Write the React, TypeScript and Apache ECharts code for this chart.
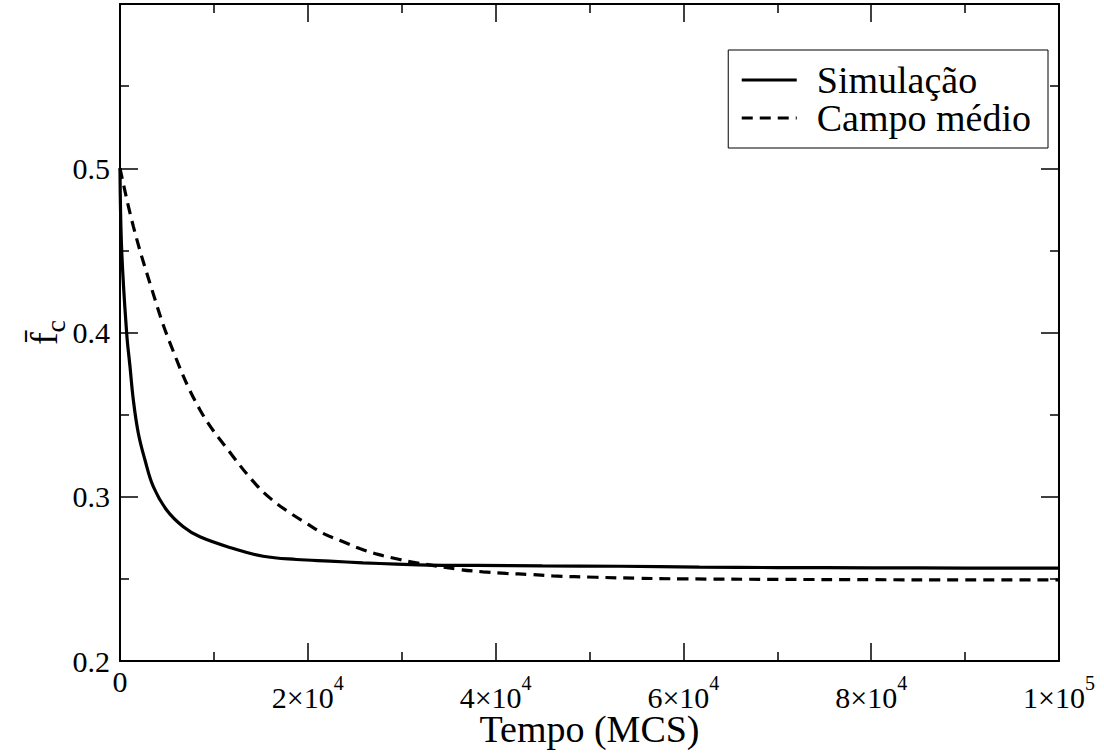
import React, { useEffect, useRef } from "react";
import * as echarts from "echarts";

const simTime = [0, 177, 709, 1064, 1418, 1950, 2660, 3550, 4965, 6740, 8510, 12050, 15250, 18800, 22340, 25880, 29430, 32980, 38000, 45000, 53200, 61700, 70000, 80000, 90000, 100000];
const simValue = [0.5, 0.4505, 0.3997, 0.3793, 0.359, 0.3387, 0.3224, 0.3061, 0.2919, 0.2817, 0.2756, 0.2685, 0.2638, 0.2618, 0.2608, 0.2598, 0.259, 0.2584, 0.2582, 0.2579, 0.2577, 0.2571, 0.2569, 0.2567, 0.2566, 0.2565];

const mfTime = [0, 1420, 3190, 5320, 8510, 12060, 14540, 16140, 17910, 19860, 21630, 23580, 25530, 27480, 29790, 31560, 36170, 38650, 41130, 43600, 46060, 50710, 55000, 60000, 70000, 80000, 90000, 100000];
const mfValue = [0.5, 0.4646, 0.43, 0.3937, 0.353, 0.3244, 0.3071, 0.2984, 0.2909, 0.2838, 0.2777, 0.273, 0.2685, 0.2649, 0.2618, 0.2598, 0.2557, 0.2543, 0.2533, 0.2527, 0.2518, 0.251, 0.2504, 0.25, 0.2497, 0.2495, 0.2494, 0.2494];

const seriesNames = ["Simulação", "Campo médio"];
const xTickLabels: Record<number, string> = {
  0: "{z|0}",
  20000: "{b|2×10}{s|4}",
  40000: "{b|4×10}{s|4}",
  60000: "{b|6×10}{s|4}",
  80000: "{b|8×10}{s|4}",
  100000: "{b|1×10}{s|5}",
};
const yTickLabels: Record<string, string> = {
  "0.2": "0.2",
  "0.3": "0.3",
  "0.4": "0.4",
  "0.5": "0.5",
};

const FONT = "Liberation Serif";

export default function App() {
  const ref = useRef<HTMLDivElement>(null);
  useEffect(() => {
    if (!ref.current) return;
    const chart = echarts.init(ref.current, null, { renderer: "svg" });
    const tickCommon = {
      axisLine: { show: true, onZero: false, lineStyle: { color: "#000", width: 2 } },
      axisTick: { show: true, inside: true, length: 18, lineStyle: { color: "#000", width: 1.5 } },
      minorTick: { show: true, splitNumber: 2, length: 9, lineStyle: { color: "#000", width: 1.5 } },
      splitLine: { show: false },
    };
    const xBase = { type: "value", min: 0, max: 100000, interval: 20000, ...tickCommon };
    const yBase = { type: "value", min: 0.2, max: 0.6, interval: 0.1, ...tickCommon };
    chart.setOption({
      animation: false,
      backgroundColor: "#fff",
      grid: { left: 120, right: 45, top: 4, bottom: 94, containLabel: false, outerBoundsMode: "none" },
      legend: {
        orient: "vertical",
        right: 56,
        top: 50,
        data: seriesNames.map((n) => ({ name: n })),
        itemWidth: 55,
        itemHeight: 14,
        itemGap: 0,
        padding: [11, 17, 11, 12],
        borderColor: "#000",
        borderWidth: 1,
        borderRadius: 0,
        itemStyle: { color: "transparent", borderColor: "transparent", borderWidth: 0, opacity: 0 },
        lineStyle: { color: "#000", width: 3 },
        textStyle: { fontFamily: FONT, fontSize: 38, color: "#000", lineHeight: 38, padding: [0, 0, 0, 15] },
      },
      xAxis: [
        {
          ...xBase,
          position: "bottom",
          name: "Tempo (MCS)",
          nameLocation: "middle",
          nameGap: 53,
          nameMoveOverlap: false,
          nameTextStyle: { fontFamily: FONT, fontSize: 38, color: "#000", lineHeight: 30 },
          axisLabel: {
            margin: 8,
            color: "#000",
            fontFamily: FONT,
            formatter: (v: number) => xTickLabels[v] ?? "",
            rich: {
              z: { fontFamily: FONT, fontSize: 30, color: "#000", lineHeight: 24 },
              b: { fontFamily: FONT, fontSize: 30, color: "#000", lineHeight: 43, verticalAlign: "bottom" },
              s: { fontFamily: FONT, fontSize: 20, color: "#000", lineHeight: 20, verticalAlign: "top", padding: [4, 0, 0, 0] },
            },
          },
        },
        { ...xBase, position: "top", axisLabel: { show: false } },
      ],
      yAxis: [
        {
          ...yBase,
          position: "left",
          name: "{f|f\u0304}{c|c}",
          nameLocation: "middle",
          nameRotate: 90,
          nameGap: 51,
          nameMoveOverlap: false,
          nameTextStyle: {
            rich: {
              f: { fontFamily: FONT, fontSize: 38, color: "#000", lineHeight: 44, verticalAlign: "top" },
              c: { fontFamily: FONT, fontSize: 28, color: "#000", lineHeight: 28, verticalAlign: "bottom", padding: [33, 0, 0, 0] },
            },
          },
          axisLabel: {
            margin: 10,
            color: "#000",
            fontFamily: FONT,
            fontSize: 30,
            formatter: (v: number) => yTickLabels[v.toFixed(1)] ?? "",
          },
        },
        { ...yBase, position: "right", axisLabel: { show: false } },
      ],
      series: [
        {
          name: seriesNames[0],
          type: "line",
          xAxisIndex: 0,
          yAxisIndex: 0,
          data: simTime.map((t, i) => [t, simValue[i]]),
          showSymbol: false,
          symbol: "none",
          smooth: 0.4,
          lineStyle: { color: "#000", width: 3.2, type: "solid" },
          itemStyle: { color: "#000" },
        },
        {
          name: seriesNames[1],
          type: "line",
          xAxisIndex: 0,
          yAxisIndex: 0,
          data: mfTime.map((t, i) => [t, mfValue[i]]),
          showSymbol: false,
          symbol: "none",
          smooth: 0.4,
          lineStyle: { color: "#000", width: 3.2, type: [11, 7] },
          itemStyle: { color: "#000" },
        },
      ],
    });
    return () => chart.dispose();
  }, []);
  return (
    <div
      ref={ref}
      style={{ position: "absolute", left: 0, top: 0, width: 1104, height: 755, background: "#fff" }}
    />
  );
}
